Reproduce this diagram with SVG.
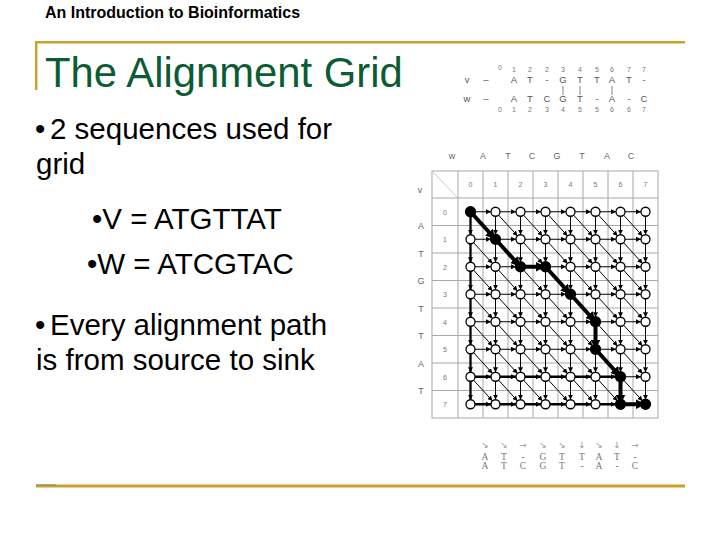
<svg xmlns="http://www.w3.org/2000/svg" xmlns:xlink="http://www.w3.org/1999/xlink" width="720" height="540" viewBox="0 0 720 540">
<style>
.hdr{font-family:"Liberation Sans",Arial,sans-serif;font-size:16px;font-weight:bold;fill:#000}
.ttl{font-family:"Liberation Sans",Arial,sans-serif;font-size:41.8px;fill:#0b5c34}
.body{font-family:"Liberation Sans",Arial,sans-serif;font-size:29.5px;fill:#000}
.al{font-family:"Liberation Sans",Arial,sans-serif;font-size:9.5px;fill:#555;text-anchor:middle}
.num{font-family:"Liberation Sans",Arial,sans-serif;font-size:7px;fill:#777;text-anchor:middle}
.gl{font-family:"Liberation Sans",Arial,sans-serif;font-size:9px;fill:#666;text-anchor:middle}
.bt{font-family:"Liberation Serif","Times New Roman",serif;font-size:9.5px;fill:#777;text-anchor:middle}
.ba{font-family:"DejaVu Sans",sans-serif;font-size:9px;fill:#999;text-anchor:middle}
.gold{stroke:#c9a12b;fill:none}
.tab{stroke:#a8a8a8;stroke-width:1;fill:none}
.e{stroke:#000;stroke-width:1;marker-end:url(#ah)}
.eb{stroke:#000;stroke-width:4;marker-end:url(#ahb)}
.em{stroke:#000;stroke-width:2.3;fill:none}
.n{fill:#fff;stroke:#000;stroke-width:1.3}
.nb{fill:#000;stroke:#000;stroke-width:1.3}
.bar{stroke:#666;stroke-width:0.8}
</style>
<defs>
<marker id="ah" viewBox="0 0 6 6" refX="6" refY="3" markerWidth="5" markerHeight="5" markerUnits="userSpaceOnUse" orient="auto"><path d="M0,0 L6,3 L0,6 z" fill="#000"/></marker>
<marker id="ahb" viewBox="0 0 10 10" refX="4" refY="5" markerWidth="10" markerHeight="10" markerUnits="userSpaceOnUse" orient="auto"><path d="M0,0 L10,5 L0,10 z" fill="#000"/></marker>
<g id="hr">
<line class="e" x1="475" y1="0" x2="491" y2="0"/><line class="e" x1="500" y1="0" x2="516" y2="0"/><line class="e" x1="525" y1="0" x2="541" y2="0"/><line class="e" x1="550" y1="0" x2="566" y2="0"/><line class="e" x1="575" y1="0" x2="591" y2="0"/><line class="e" x1="600" y1="0" x2="616" y2="0"/><line class="e" x1="625" y1="0" x2="641" y2="0"/>
</g>
<g id="vr">
<line class="e" x1="470.5" y1="4.5" x2="470.5" y2="23"/><line class="e" x1="495.5" y1="4.5" x2="495.5" y2="23"/><line class="e" x1="520.5" y1="4.5" x2="520.5" y2="23"/><line class="e" x1="545.5" y1="4.5" x2="545.5" y2="23"/><line class="e" x1="570.5" y1="4.5" x2="570.5" y2="23"/><line class="e" x1="595.5" y1="4.5" x2="595.5" y2="23"/><line class="e" x1="620.5" y1="4.5" x2="620.5" y2="23"/><line class="e" x1="645.5" y1="4.5" x2="645.5" y2="23"/>
</g>
<g id="dr">
<line class="e" x1="473.5" y1="3.3" x2="492.5" y2="24.2"/><line class="e" x1="498.5" y1="3.3" x2="517.5" y2="24.2"/><line class="e" x1="523.5" y1="3.3" x2="542.5" y2="24.2"/><line class="e" x1="548.5" y1="3.3" x2="567.5" y2="24.2"/><line class="e" x1="573.5" y1="3.3" x2="592.5" y2="24.2"/><line class="e" x1="598.5" y1="3.3" x2="617.5" y2="24.2"/><line class="e" x1="623.5" y1="3.3" x2="642.5" y2="24.2"/>
</g>
</defs>
<rect width="720" height="540" fill="#fff"/>

<g id="frame">
<line class="gold" x1="35" y1="42.3" x2="685" y2="42.3" stroke-width="2.5"/>
<line class="gold" x1="36.2" y1="41" x2="36.2" y2="90" stroke-width="2.5"/>
<line class="gold" x1="36" y1="486" x2="685" y2="486" stroke-width="3"/>
<line x1="36" y1="485" x2="56" y2="485" stroke="#8f8a66" stroke-width="1.2"/>
</g>

<text class="hdr" x="45" y="17.5">An Introduction to Bioinformatics</text>
<text class="ttl" x="45" y="87">The Alignment Grid</text>

<g id="bullets">
<text class="body" x="35" y="139">•</text>
<text class="body" x="50" y="139">2 sequences used for</text>
<text class="body" x="36" y="174">grid</text>
<text class="body" x="92" y="229">•V = ATGTTAT</text>
<text class="body" x="87" y="274">•W = ATCGTAC</text>
<text class="body" x="35" y="335">•</text>
<text class="body" x="50" y="335">Every alignment path</text>
<text class="body" x="36" y="370">is from source to sink</text>
</g>

<g id="top-alignment">
<text class="num" x="500" y="70">0</text><text class="num" x="514" y="72">1</text><text class="num" x="530" y="72">2</text><text class="num" x="547" y="72">2</text><text class="num" x="563" y="72">3</text><text class="num" x="580" y="72">4</text><text class="num" x="597" y="72">5</text><text class="num" x="612" y="72">6</text><text class="num" x="629" y="72">7</text><text class="num" x="644" y="72">7</text>
<text class="al" x="467" y="83" font-size="8">v</text><text class="al" x="486" y="83">–</text>
<text class="al" x="514" y="83">A</text><text class="al" x="530" y="83" fill="#888">T</text><text class="al" x="547" y="83">-</text><text class="al" x="563" y="83">G</text><text class="al" x="580" y="83">T</text><text class="al" x="597" y="83">T</text><text class="al" x="612" y="83">A</text><text class="al" x="629" y="83" fill="#888">T</text><text class="al" x="644" y="83">-</text>
<line class="bar" x1="563" y1="86" x2="563" y2="95"/><line class="bar" x1="580" y1="86" x2="580" y2="95"/><line class="bar" x1="612" y1="86" x2="612" y2="95"/>
<text class="al" x="467" y="102" font-size="8">w</text><text class="al" x="486" y="102">–</text>
<text class="al" x="514" y="102">A</text><text class="al" x="530" y="102">T</text><text class="al" x="547" y="102">C</text><text class="al" x="563" y="102">G</text><text class="al" x="580" y="102">T</text><text class="al" x="597" y="102" fill="#999">-</text><text class="al" x="612" y="102">A</text><text class="al" x="629" y="102" fill="#999">-</text><text class="al" x="644" y="102">C</text>
<text class="num" x="500" y="112">0</text><text class="num" x="514" y="112">1</text><text class="num" x="530" y="112">2</text><text class="num" x="547" y="112">3</text><text class="num" x="563" y="112">4</text><text class="num" x="580" y="112">5</text><text class="num" x="597" y="112">5</text><text class="num" x="612" y="112">6</text><text class="num" x="629" y="112">6</text><text class="num" x="644" y="112">7</text>
</g>

<g id="grid-table">
<rect class="tab" x="432" y="171" width="226" height="247"/>
<line class="tab" x1="458" y1="171" x2="458" y2="418"/><line class="tab" x1="483" y1="171" x2="483" y2="418"/><line class="tab" x1="508" y1="171" x2="508" y2="418"/><line class="tab" x1="533" y1="171" x2="533" y2="418"/><line class="tab" x1="558" y1="171" x2="558" y2="418"/><line class="tab" x1="583" y1="171" x2="583" y2="418"/><line class="tab" x1="608" y1="171" x2="608" y2="418"/><line class="tab" x1="633" y1="171" x2="633" y2="418"/>
<line class="tab" x1="432" y1="198" x2="658" y2="198"/><line class="tab" x1="432" y1="225.5" x2="658" y2="225.5"/><line class="tab" x1="432" y1="253" x2="658" y2="253"/><line class="tab" x1="432" y1="280.5" x2="658" y2="280.5"/><line class="tab" x1="432" y1="308" x2="658" y2="308"/><line class="tab" x1="432" y1="335.5" x2="658" y2="335.5"/><line class="tab" x1="432" y1="363" x2="658" y2="363"/><line class="tab" x1="432" y1="390.5" x2="658" y2="390.5"/>
<line x1="433" y1="172" x2="457" y2="197" stroke="#c8c8c8" stroke-width="1"/>
<text class="gl" x="452" y="159" font-size="7.5">w</text>
<text class="gl" x="483" y="159">A</text><text class="gl" x="508" y="159" fill="#aaa">T</text><text class="gl" x="532" y="159">C</text><text class="gl" x="557" y="159">G</text><text class="gl" x="582" y="159">T</text><text class="gl" x="607" y="159">A</text><text class="gl" x="631" y="159">C</text>
<text class="gl" x="420" y="193" font-size="7">v</text>
<text class="num" x="470.5" y="187">0</text><text class="num" x="495.5" y="187">1</text><text class="num" x="520.5" y="187">2</text><text class="num" x="545.5" y="187">3</text><text class="num" x="570.5" y="187">4</text><text class="num" x="595.5" y="187">5</text><text class="num" x="620.5" y="187">6</text><text class="num" x="645.5" y="187">7</text>
<text class="num" x="445" y="214.5">0</text><text class="num" x="445" y="242">1</text><text class="num" x="445" y="269.5">2</text><text class="num" x="445" y="297">3</text><text class="num" x="445" y="324.5">4</text><text class="num" x="445" y="352">5</text><text class="num" x="445" y="379.5">6</text><text class="num" x="445" y="407">7</text>
<text class="gl" x="421" y="229">A</text><text class="gl" x="421" y="256.5" fill="#aaa">T</text><text class="gl" x="421" y="284">G</text><text class="gl" x="421" y="311.5">T</text><text class="gl" x="421" y="339" fill="#aaa">T</text><text class="gl" x="421" y="366.5">A</text><text class="gl" x="421" y="394" fill="#aaa">T</text>
</g>

<g id="connectors">
<use xlink:href="#hr" href="#hr" y="211.75"/><use xlink:href="#hr" href="#hr" y="239.25"/><use xlink:href="#hr" href="#hr" y="266.75"/><use xlink:href="#hr" href="#hr" y="294.25"/><use xlink:href="#hr" href="#hr" y="321.75"/><use xlink:href="#hr" href="#hr" y="349.25"/><use xlink:href="#hr" href="#hr" y="376.75"/><use xlink:href="#hr" href="#hr" y="404.25"/>
<use xlink:href="#vr" href="#vr" y="211.75"/><use xlink:href="#vr" href="#vr" y="239.25"/><use xlink:href="#vr" href="#vr" y="266.75"/><use xlink:href="#vr" href="#vr" y="294.25"/><use xlink:href="#vr" href="#vr" y="321.75"/><use xlink:href="#vr" href="#vr" y="349.25"/><use xlink:href="#vr" href="#vr" y="376.75"/>
<use xlink:href="#dr" href="#dr" y="211.75"/><use xlink:href="#dr" href="#dr" y="239.25"/><use xlink:href="#dr" href="#dr" y="266.75"/><use xlink:href="#dr" href="#dr" y="294.25"/><use xlink:href="#dr" href="#dr" y="321.75"/><use xlink:href="#dr" href="#dr" y="349.25"/><use xlink:href="#dr" href="#dr" y="376.75"/>
<line class="em" x1="470.5" y1="211.75" x2="470.5" y2="404.25"/>
<line class="em" x1="470.5" y1="376.75" x2="620.5" y2="376.75"/>
<line class="em" x1="470.5" y1="404.25" x2="645.5" y2="404.25"/>
<line class="eb" x1="470.5" y1="211.75" x2="491.6" y2="235"/>
<line class="eb" x1="495.5" y1="239.25" x2="516.6" y2="262.5"/>
<line class="eb" x1="520.5" y1="266.75" x2="539.5" y2="266.75"/>
<line class="eb" x1="545.5" y1="266.75" x2="566.6" y2="290"/>
<line class="eb" x1="570.5" y1="294.25" x2="591.6" y2="317.5"/>
<line class="eb" x1="595.5" y1="321.75" x2="595.5" y2="343.5"/>
<line class="eb" x1="595.5" y1="349.25" x2="616.6" y2="372.5"/>
<line class="eb" x1="620.5" y1="376.75" x2="620.5" y2="398.5"/>
<line class="eb" x1="620.5" y1="404.25" x2="639.5" y2="404.25"/>
</g>

<g id="nodes">
<g id="n00"><circle class="nb" cx="470.5" cy="211.75" r="5"/></g>
<g id="n01"><circle class="n" cx="495.5" cy="211.75" r="4.5"/></g>
<g id="n02"><circle class="n" cx="520.5" cy="211.75" r="4.5"/></g>
<g id="n03"><circle class="n" cx="545.5" cy="211.75" r="4.5"/></g>
<g id="n04"><circle class="n" cx="570.5" cy="211.75" r="4.5"/></g>
<g id="n05"><circle class="n" cx="595.5" cy="211.75" r="4.5"/></g>
<g id="n06"><circle class="n" cx="620.5" cy="211.75" r="4.5"/></g>
<g id="n07"><circle class="n" cx="645.5" cy="211.75" r="4.5"/></g>
<g id="n10"><circle class="n" cx="470.5" cy="239.25" r="4.5"/></g>
<g id="n11"><circle class="nb" cx="495.5" cy="239.25" r="5"/></g>
<g id="n12"><circle class="n" cx="520.5" cy="239.25" r="4.5"/></g>
<g id="n13"><circle class="n" cx="545.5" cy="239.25" r="4.5"/></g>
<g id="n14"><circle class="n" cx="570.5" cy="239.25" r="4.5"/></g>
<g id="n15"><circle class="n" cx="595.5" cy="239.25" r="4.5"/></g>
<g id="n16"><circle class="n" cx="620.5" cy="239.25" r="4.5"/></g>
<g id="n17"><circle class="n" cx="645.5" cy="239.25" r="4.5"/></g>
<g id="n20"><circle class="n" cx="470.5" cy="266.75" r="4.5"/></g>
<g id="n21"><circle class="n" cx="495.5" cy="266.75" r="4.5"/></g>
<g id="n22"><circle class="nb" cx="520.5" cy="266.75" r="5"/></g>
<g id="n23"><circle class="nb" cx="545.5" cy="266.75" r="5"/></g>
<g id="n24"><circle class="n" cx="570.5" cy="266.75" r="4.5"/></g>
<g id="n25"><circle class="n" cx="595.5" cy="266.75" r="4.5"/></g>
<g id="n26"><circle class="n" cx="620.5" cy="266.75" r="4.5"/></g>
<g id="n27"><circle class="n" cx="645.5" cy="266.75" r="4.5"/></g>
<g id="n30"><circle class="n" cx="470.5" cy="294.25" r="4.5"/></g>
<g id="n31"><circle class="n" cx="495.5" cy="294.25" r="4.5"/></g>
<g id="n32"><circle class="n" cx="520.5" cy="294.25" r="4.5"/></g>
<g id="n33"><circle class="n" cx="545.5" cy="294.25" r="4.5"/></g>
<g id="n34"><circle class="nb" cx="570.5" cy="294.25" r="5"/></g>
<g id="n35"><circle class="n" cx="595.5" cy="294.25" r="4.5"/></g>
<g id="n36"><circle class="n" cx="620.5" cy="294.25" r="4.5"/></g>
<g id="n37"><circle class="n" cx="645.5" cy="294.25" r="4.5"/></g>
<g id="n40"><circle class="n" cx="470.5" cy="321.75" r="4.5"/></g>
<g id="n41"><circle class="n" cx="495.5" cy="321.75" r="4.5"/></g>
<g id="n42"><circle class="n" cx="520.5" cy="321.75" r="4.5"/></g>
<g id="n43"><circle class="n" cx="545.5" cy="321.75" r="4.5"/></g>
<g id="n44"><circle class="n" cx="570.5" cy="321.75" r="4.5"/></g>
<g id="n45"><circle class="nb" cx="595.5" cy="321.75" r="5"/></g>
<g id="n46"><circle class="n" cx="620.5" cy="321.75" r="4.5"/></g>
<g id="n47"><circle class="n" cx="645.5" cy="321.75" r="4.5"/></g>
<g id="n50"><circle class="n" cx="470.5" cy="349.25" r="4.5"/></g>
<g id="n51"><circle class="n" cx="495.5" cy="349.25" r="4.5"/></g>
<g id="n52"><circle class="n" cx="520.5" cy="349.25" r="4.5"/></g>
<g id="n53"><circle class="n" cx="545.5" cy="349.25" r="4.5"/></g>
<g id="n54"><circle class="n" cx="570.5" cy="349.25" r="4.5"/></g>
<g id="n55"><circle class="nb" cx="595.5" cy="349.25" r="5"/></g>
<g id="n56"><circle class="n" cx="620.5" cy="349.25" r="4.5"/></g>
<g id="n57"><circle class="n" cx="645.5" cy="349.25" r="4.5"/></g>
<g id="n60"><circle class="n" cx="470.5" cy="376.75" r="4.5"/></g>
<g id="n61"><circle class="n" cx="495.5" cy="376.75" r="4.5"/></g>
<g id="n62"><circle class="n" cx="520.5" cy="376.75" r="4.5"/></g>
<g id="n63"><circle class="n" cx="545.5" cy="376.75" r="4.5"/></g>
<g id="n64"><circle class="n" cx="570.5" cy="376.75" r="4.5"/></g>
<g id="n65"><circle class="n" cx="595.5" cy="376.75" r="4.5"/></g>
<g id="n66"><circle class="nb" cx="620.5" cy="376.75" r="5"/></g>
<g id="n67"><circle class="n" cx="645.5" cy="376.75" r="4.5"/></g>
<g id="n70"><circle class="n" cx="470.5" cy="404.25" r="4.5"/></g>
<g id="n71"><circle class="n" cx="495.5" cy="404.25" r="4.5"/></g>
<g id="n72"><circle class="n" cx="520.5" cy="404.25" r="4.5"/></g>
<g id="n73"><circle class="n" cx="545.5" cy="404.25" r="4.5"/></g>
<g id="n74"><circle class="n" cx="570.5" cy="404.25" r="4.5"/></g>
<g id="n75"><circle class="n" cx="595.5" cy="404.25" r="4.5"/></g>
<g id="n76"><circle class="nb" cx="620.5" cy="404.25" r="5"/></g>
<g id="n77"><circle class="nb" cx="645.5" cy="404.25" r="5"/></g>
</g>

<g id="bottom-alignment">
<text class="ba" x="485" y="448">↘</text><text class="ba" x="504" y="448">↘</text><text class="ba" x="523" y="448">→</text><text class="ba" x="543" y="448">↘</text><text class="ba" x="562" y="448">↘</text><text class="ba" x="582" y="448">↓</text><text class="ba" x="599" y="448">↘</text><text class="ba" x="617" y="448">↓</text><text class="ba" x="635" y="448">→</text>
<text class="bt" x="485" y="459.5">A</text><text class="bt" x="504" y="459.5">T</text><text class="bt" x="523" y="459.5">-</text><text class="bt" x="543" y="459.5">G</text><text class="bt" x="562" y="459.5">T</text><text class="bt" x="582" y="459.5">T</text><text class="bt" x="599" y="459.5">A</text><text class="bt" x="617" y="459.5">T</text><text class="bt" x="635" y="459.5">-</text>
<text class="bt" x="485" y="468.5">A</text><text class="bt" x="504" y="468.5">T</text><text class="bt" x="523" y="468.5">C</text><text class="bt" x="543" y="468.5">G</text><text class="bt" x="562" y="468.5">T</text><text class="bt" x="582" y="468.5">-</text><text class="bt" x="599" y="468.5">A</text><text class="bt" x="617" y="468.5">-</text><text class="bt" x="635" y="468.5">C</text>
</g>
</svg>
